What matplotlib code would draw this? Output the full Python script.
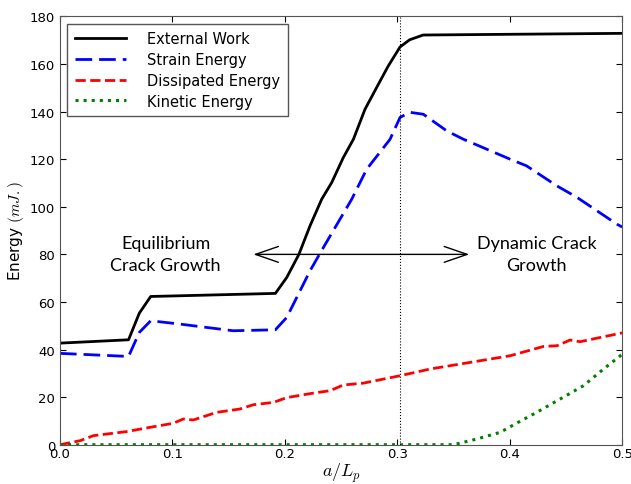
import matplotlib
matplotlib.use("Agg")
import matplotlib.pyplot as plt

# crack length ratio and energy curves (mJ)
work_x = [0.0, 0.061, 0.0706, 0.0807, 0.1916, 0.2017, 0.2125, 0.2224, 0.2328, 0.2417,
          0.252, 0.261, 0.2713, 0.2817, 0.292, 0.3025, 0.311, 0.323, 0.5]
work_y = [42.7, 44.1, 55.3, 62.3, 63.6, 70.3, 80.0, 92.0, 103.2, 110.2,
          120.7, 128.4, 141.0, 150.2, 159.2, 167.2, 170.2, 172.2, 172.9]

strain_x = [0.0, 0.061, 0.0706, 0.0807, 0.1068, 0.154, 0.1916, 0.2017, 0.2106, 0.2224,
            0.2343, 0.2595, 0.2728, 0.2936, 0.3025, 0.3114, 0.3232, 0.344, 0.3588,
            0.4004, 0.415, 0.4419, 0.4597, 0.4953, 0.5]
strain_y = [38.4, 37.1, 47.2, 52.1, 50.7, 47.9, 48.3, 53.5, 61.9, 73.1,
            82.9, 103.2, 115.8, 128.4, 137.6, 139.7, 138.9, 131.9, 128.4,
            120.0, 117.2, 108.8, 104.0, 92.7, 91.5]

diss_x = [0.0, 0.018, 0.0297, 0.059, 0.08, 0.1008, 0.1097, 0.1186, 0.1394, 0.16,
          0.172, 0.19, 0.2017, 0.2254, 0.2402, 0.252, 0.27, 0.3025, 0.329, 0.3648,
          0.4004, 0.43, 0.4419, 0.4537, 0.4626, 0.5]
diss_y = [0.0, 1.7, 3.8, 5.5, 7.3, 9.0, 10.8, 10.4, 13.6, 15.0,
          16.8, 17.8, 19.8, 21.7, 22.7, 25.1, 25.9, 29.0, 31.8, 34.6,
          37.4, 41.3, 41.6, 44.0, 43.3, 47.0]

kin_x = [0.0, 0.35, 0.3707, 0.3915, 0.4063, 0.424, 0.4448, 0.4656, 0.4834, 0.5]
kin_y = [0.0, 0.0, 2.4, 5.2, 9.1, 13.6, 19.2, 24.8, 31.8, 38.0]

transition = 0.3025

plt.rcParams['font.family'] = ['DejaVu Sans']
plt.rcParams['mathtext.fontset'] = 'cm'

fig = plt.figure(figsize=(6.31, 4.85), dpi=100)
ax = fig.add_axes([0.095, 0.081, 0.891, 0.883])

ax.plot(work_x, work_y, color='black', lw=2, label='External Work')
ax.plot(strain_x, strain_y, color='blue', lw=2, dashes=(6, 2.5), label='Strain Energy')
ax.plot(diss_x, diss_y, color='red', lw=2, linestyle='--', label='Dissipated Energy')
ax.plot(kin_x, kin_y, color='green', lw=2.2, linestyle=':', label='Kinetic Energy')

ax.axvline(transition, color='black', lw=0.8, linestyle=':')

ax.annotate('', xy=(0.172, 80), xytext=(0.364, 80),
            arrowprops=dict(arrowstyle='<->,head_length=1.1,head_width=0.38',
                            color='black', lw=1, shrinkA=0, shrinkB=0),
            annotation_clip=False, fontsize=15)
ax.text(0.094, 80, 'Equilibrium\nCrack Growth', ha='center', va='center',
        fontsize=13, family='Lato', linespacing=1.45)
ax.text(0.424, 80, 'Dynamic Crack\nGrowth', ha='center', va='center',
        fontsize=13, family='Lato', linespacing=1.45)

ax.set_xlim(0, 0.5)
ax.set_ylim(0, 180)
ax.set_xticks([0.0, 0.1, 0.2, 0.3, 0.4, 0.5])
ax.set_yticks(range(0, 181, 20))
ax.tick_params(direction='in', top=True, right=True, labelsize=9.5, length=4)
ax.tick_params(axis='x', pad=2)
ax.tick_params(axis='y', pad=3.5)
for s in ax.spines.values():
    s.set_color('#555555')

ax.set_xlabel('$a/L_p$', fontsize=13, labelpad=0)
ax.set_ylabel('Energy $(mJ.)$', fontsize=11, labelpad=3)

leg = ax.legend(loc='upper left', fontsize=10.5, fancybox=False, framealpha=1,
                edgecolor='#555555', handlelength=3.5, borderpad=0.5,
                labelspacing=0.4, handletextpad=1.5)
leg.get_frame().set_linewidth(1)

fig.savefig('out.png', dpi=100)
